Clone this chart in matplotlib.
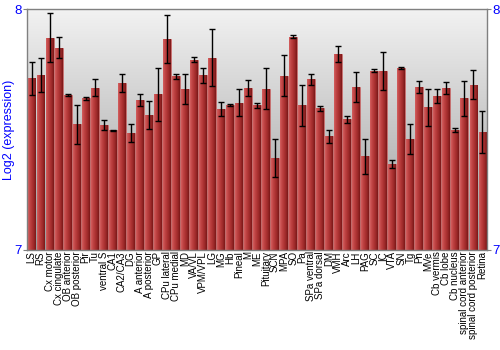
import numpy as np
import matplotlib
matplotlib.use("Agg")
from matplotlib import pyplot as plt
from matplotlib.colors import LinearSegmentedColormap

regions = ["LS", "RS", "Cx motor", "Cx cingulate", "OB anterior", "OB posterior",
           "Pir", "Tu", "ventral S", "CA1", "CA2/CA3", "DG", "A anterior",
           "A posterior", "GP", "CPu lateral", "CPu medial", "MD", "VA/VL",
           "VPM/VPL", "LG", "MG", "Hb", "Pineal", "M", "ME", "Pituitary", "SCN",
           "MPA", "SO", "Pa", "SPa ventral", "SPa dorsal", "DM", "VMH", "Arc",
           "LH", "PAG", "SC", "IC", "VTA", "SN", "Tg", "Pn", "MVe", "Cb vermis",
           "Cb lobe", "Cb nucleus", "spinal cord anterior",
           "spinal cord posterior", "Retina"]
expression = [7.712, 7.726, 7.882, 7.840, 7.643, 7.521, 7.629, 7.674, 7.518,
              7.496, 7.693, 7.486, 7.621, 7.560, 7.646, 7.875, 7.721, 7.669,
              7.790, 7.725, 7.799, 7.586, 7.600, 7.612, 7.674, 7.600, 7.669,
              7.382, 7.724, 7.886, 7.601, 7.708, 7.588, 7.472, 7.814, 7.542,
              7.675, 7.389, 7.745, 7.743, 7.357, 7.757, 7.461, 7.676, 7.592,
              7.640, 7.674, 7.499, 7.629, 7.686, 7.490]
error = [0.068, 0.070, 0.100, 0.045, 0.003, 0.080, 0.008, 0.036, 0.020,
         0.004, 0.039, 0.038, 0.025, 0.057, 0.110, 0.100, 0.010, 0.062,
         0.011, 0.032, 0.118, 0.030, 0.004, 0.057, 0.033, 0.010, 0.085,
         0.078, 0.086, 0.008, 0.085, 0.022, 0.010, 0.027, 0.033, 0.016,
         0.062, 0.072, 0.008, 0.080, 0.015, 0.004, 0.062, 0.026, 0.078,
         0.028, 0.025, 0.008, 0.074, 0.061, 0.088]
y_min, y_max = 7, 8

plt.rcParams['font.family'] = ['Liberation Sans', 'DejaVu Sans']

fig = plt.figure(figsize=(5, 3.5), dpi=100)
ax = fig.add_axes([0.054, 0.286, 0.92, 0.688])

n = len(regions)
x = np.arange(n)
ax.set_xlim(-0.5, n - 0.5)
ax.set_ylim(y_min, y_max)

# grey vertical gradient background
bg = LinearSegmentedColormap.from_list("bg", ["#9a9a9a", "#f2f2f2"])
ax.imshow(np.linspace(0, 1, 256).reshape(-1, 1), cmap=bg, aspect='auto',
          extent=[-0.5, n - 0.5, y_min, y_max], origin='lower', zorder=0)

width = 0.88
bars = ax.bar(x, np.array(expression) - y_min, bottom=y_min, width=width,
              color="#b33a3a", edgecolor="#c86a6a", linewidth=0.5, zorder=1)

# horizontal shading across each bar
red = LinearSegmentedColormap.from_list(
    "red", ["#d46060", "#c04545", "#b03535", "#9a2828", "#7a1818"])
grad = np.linspace(0, 1, 64).reshape(1, -1)
for xi, val, b in zip(x, expression, bars):
    im = ax.imshow(grad, cmap=red, aspect='auto',
                   extent=[xi - width / 2, xi + width / 2, y_min, val],
                   zorder=2)
    im.set_clip_path(b)

ax.errorbar(x, expression, yerr=error, fmt='none', ecolor='black',
            elinewidth=1, capsize=2.5, capthick=1, zorder=3)

ax.set_xticks(x)
ax.set_xticklabels(regions, rotation=90, fontsize=7.0)
ax.tick_params(axis='x', length=0, pad=1)

ax.set_yticks([y_min, y_max])
ax.set_yticklabels(["7", "8"])
ax.tick_params(axis='y', colors='#808080', labelcolor='blue', labelsize=9.5,
               length=3, pad=1, left=True, right=True,
               labelleft=True, labelright=True)
ax.set_ylabel("Log2 (expression)", color='blue', fontsize=9)
ax.yaxis.set_label_coords(-0.026, 0.5)

for s in ax.spines.values():
    s.set_color('#808080')
    s.set_linewidth(1)

fig.savefig("out.png", dpi=100)
